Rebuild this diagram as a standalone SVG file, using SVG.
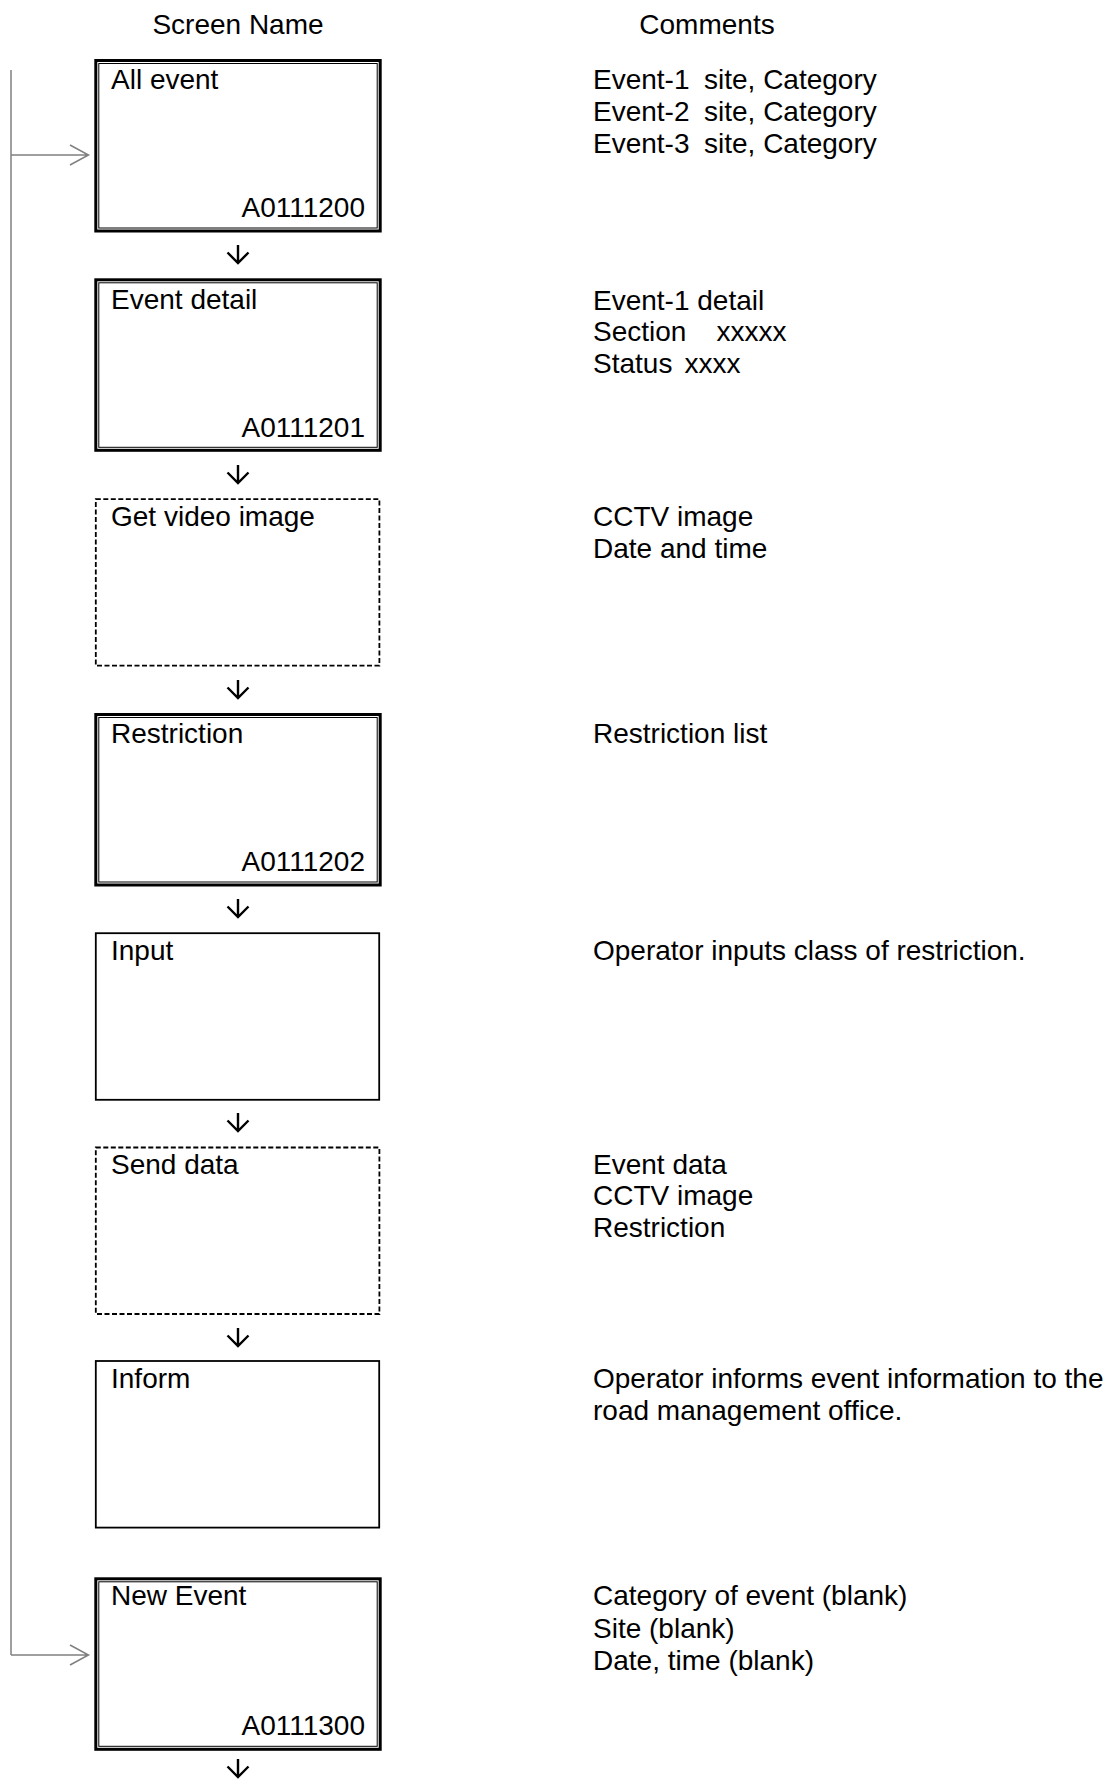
<svg xmlns="http://www.w3.org/2000/svg" width="1107" height="1781" viewBox="0 0 1107 1781">
  <style>
    text { font-family: "Liberation Sans", Arial, sans-serif; font-size: 28px; fill: #000; }
    .head { text-anchor: middle; }
    .sid { text-anchor: end; }
    .outer { fill: #fff; stroke: #000; stroke-width: 3; }
    .inner { fill: none; stroke: #000; stroke-width: 1; }
    .single { fill: #fff; stroke: #000; stroke-width: 1.8; }
    .dashed { fill: #fff; stroke: #000; stroke-width: 1.8; stroke-dasharray: 5 2.5; }
    .flow { fill: none; stroke: #000; stroke-width: 2.4; }
    .back { fill: none; stroke: #808080; stroke-width: 1.5; }
  </style>
  <defs>
    <!-- small open down-arrow between screens; tip at origin -->
    <path id="down" d="M0,-18 V0 M-10.5,-10.5 L0,0 L10.5,-10.5"/>
  </defs>
  <rect width="1107" height="1781" fill="#fff"/>

  <!-- column headings -->
  <text class="head" x="238" y="34">Screen Name</text>
  <text class="head" x="707" y="34">Comments</text>

  <!-- connectors -->
  <g id="connectors">
    <g class="flow">
      <use href="#down" x="238" y="263"/>
      <use href="#down" x="238" y="483"/>
      <use href="#down" x="238" y="698"/>
      <use href="#down" x="238" y="917"/>
      <use href="#down" x="238" y="1131"/>
      <use href="#down" x="238" y="1346"/>
      <use href="#down" x="238" y="1777"/>
    </g>
    <!-- return line feeding the first and last screens -->
    <g class="back">
      <path d="M11,70 V1655"/>
      <path d="M11,155 H88 M70,145 L88.5,155 L70,165"/>
      <path d="M11,1655 H88 M70,1645 L88.5,1655 L70,1665"/>
    </g>
  </g>

  <!-- screens -->
  <g id="all-event">
    <rect class="outer" x="95.8" y="60.5" width="284.4" height="170.5"/>
    <rect class="inner" x="98.8" y="63.5" width="278.4" height="164.5"/>
    <text x="111" y="88.5">All event</text>
    <text class="sid" x="365" y="217">A0111200</text>
  </g>

  <g id="event-detail">
    <rect class="outer" x="95.8" y="279.8" width="284.4" height="170.5"/>
    <rect class="inner" x="98.8" y="282.8" width="278.4" height="164.5"/>
    <text x="111" y="308.5">Event detail</text>
    <text class="sid" x="365" y="436.5">A0111201</text>
  </g>

  <g id="get-video-image">
    <rect class="dashed" x="95.8" y="499.2" width="283.6" height="166.5"/>
    <text x="111" y="525.5">Get video image</text>
  </g>

  <g id="restriction">
    <rect class="outer" x="95.8" y="714.5" width="284.4" height="170.5"/>
    <rect class="inner" x="98.8" y="717.5" width="278.4" height="164.5"/>
    <text x="111" y="743">Restriction</text>
    <text class="sid" x="365" y="871">A0111202</text>
  </g>

  <g id="input">
    <rect class="single" x="95.8" y="933.2" width="283.4" height="166.6"/>
    <text x="111" y="960">Input</text>
  </g>

  <g id="send-data">
    <rect class="dashed" x="95.8" y="1147.5" width="283.6" height="166.5"/>
    <text x="111" y="1173.5">Send data</text>
  </g>

  <g id="inform">
    <rect class="single" x="95.8" y="1361" width="283.4" height="166.6"/>
    <text x="111" y="1388">Inform</text>
  </g>

  <g id="new-event">
    <rect class="outer" x="95.8" y="1578.8" width="284.4" height="170.5"/>
    <rect class="inner" x="98.8" y="1581.8" width="278.4" height="164.5"/>
    <text x="111" y="1604.5">New Event</text>
    <text class="sid" x="365" y="1735">A0111300</text>
  </g>

  <!-- comments column -->
  <g id="comments">
    <text x="593" y="89.3">Event-1<tspan x="704">site, Category</tspan></text>
    <text x="593" y="121">Event-2<tspan x="704">site, Category</tspan></text>
    <text x="593" y="152.8">Event-3<tspan x="704">site, Category</tspan></text>

    <text x="593" y="309.5">Event-1 detail</text>
    <text x="593" y="341.3">Section<tspan x="716.5">xxxxx</tspan></text>
    <text x="593" y="373.1">Status<tspan x="684.6">xxxx</tspan></text>

    <text x="593" y="526.4">CCTV image</text>
    <text x="593" y="558.2">Date and time</text>

    <text x="593" y="743.3">Restriction list</text>

    <text x="593" y="960.1">Operator inputs class of restriction.</text>

    <text x="593" y="1173.6">Event data</text>
    <text x="593" y="1205.4">CCTV image</text>
    <text x="593" y="1237.2">Restriction</text>

    <text x="593" y="1388.2">Operator informs event information to the</text>
    <text x="593" y="1420">road management office.</text>

    <text x="593" y="1605">Category of event (blank)</text>
    <text x="593" y="1638">Site (blank)</text>
    <text x="593" y="1669.8">Date, time (blank)</text>
  </g>
</svg>
